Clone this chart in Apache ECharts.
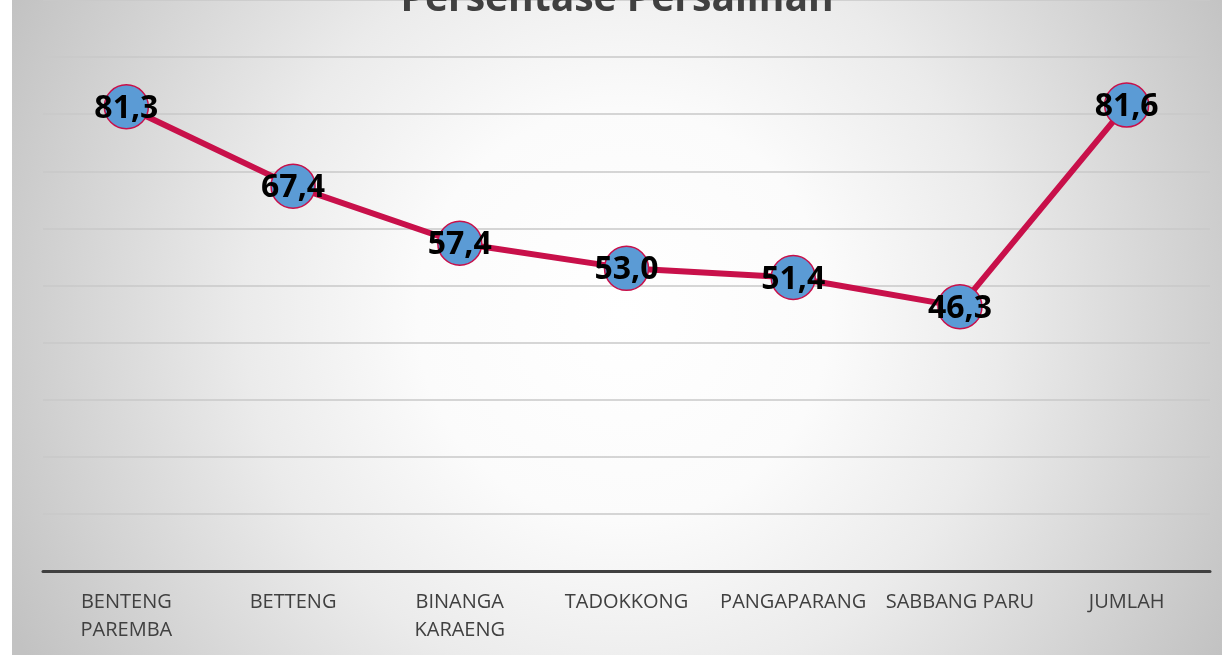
<!DOCTYPE html>
<html>
<head>
<meta charset="utf-8">
<script src="https://cdn.jsdelivr.net/npm/echarts@6/dist/echarts.min.js"></script>
<style>
html,body{margin:0;padding:0;background:#fff;width:1222px;height:657px;overflow:hidden;}
#chart{position:absolute;left:12px;top:0;width:1210px;height:655px;}
</style>
</head>
<body>
<div id="chart"></div>
<script>
const titleText = 'Persentase Persalinan';
const categories = ['BENTENG\nPAREMBA', 'BETTENG', 'BINANGA\nKARAENG', 'TADOKKONG', 'PANGAPARANG', 'SABBANG PARU', 'JUMLAH'];
const values = [81.3, 67.4, 57.4, 53.0, 51.4, 46.3, 81.6];
const yMin = 0, yMax = 100, yStep = 10;

const chart = echarts.init(document.getElementById('chart'));
chart.setOption({
  animation: false,
  backgroundColor: {
    type: 'radial', x: 0.505, y: 0.48, r: 1.05,
    colorStops: [
      {offset: 0, color: '#ffffff'},
      {offset: 0.3, color: '#fbfbfb'},
      {offset: 0.55, color: '#ebebeb'},
      {offset: 1, color: '#c2c2c2'}
    ]
  },
  title: {
    text: titleText, left: 'center', top: -25,
    textStyle: {fontFamily: 'Open Sans', fontWeight: 'bold', fontSize: 39, color: '#404040'}
  },
  grid: {left: 31, right: 12, top: -3, bottom: 84, containLabel: false},
  xAxis: {
    type: 'category', data: categories, boundaryGap: true,
    axisLine: {lineStyle: {color: '#404040', width: 3}},
    axisTick: {show: false},
    axisLabel: {
      interval: 0, margin: 17, color: '#404040',
      fontFamily: 'Open Sans', fontSize: 20, lineHeight: 28
    }
  },
  yAxis: {
    type: 'value', min: yMin, max: yMax, interval: yStep,
    axisLine: {show: false}, axisTick: {show: false}, axisLabel: {show: false},
    splitLine: {lineStyle: {color: '#c9c9c9', width: 1.5}}
  },
  series: [{
    type: 'line', data: values,
    lineStyle: {color: '#c8104a', width: 6},
    symbol: 'circle', symbolSize: 44,
    itemStyle: {color: '#5b9bd5', borderColor: '#c8104a', borderWidth: 1.5},
    label: {
      show: true, position: 'inside', offset: [0, 2],
      formatter: p => p.value.toFixed(1).replace('.', ','),
      fontFamily: 'Open Sans', fontWeight: 'bold', fontSize: 32, color: '#000'
    }
  }]
});
</script>
</body>
</html>
